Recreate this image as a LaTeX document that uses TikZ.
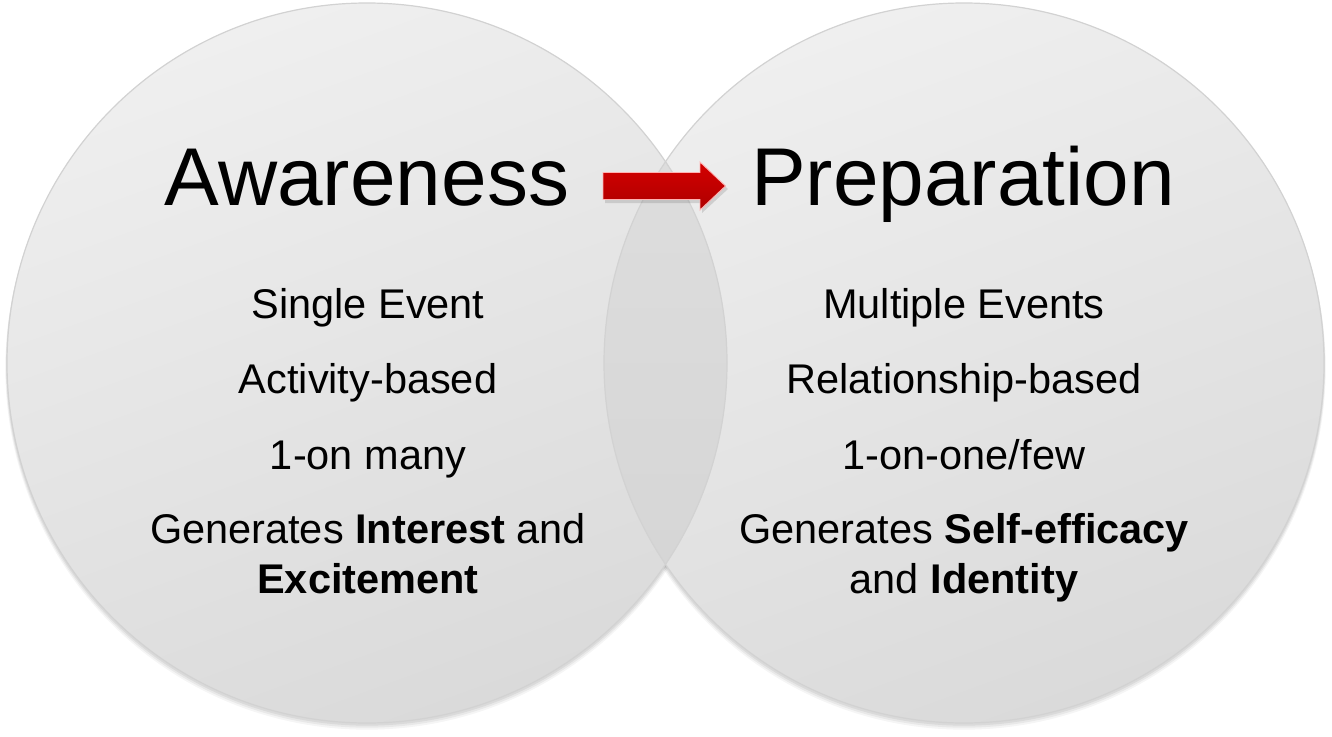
\documentclass[tikz,border=0pt]{standalone}
\usepackage{fontspec}
\setmainfont{Liberation Sans}
\tikzset{
  circ/.style={top color=circtop, bottom color=circbot, shading angle=20},
  rim/.style={draw=rimgray, line width=1.2pt},
  title/.style={anchor=base, font=\fontsize{82}{90}\selectfont, text=black},
  item/.style={anchor=base, font=\fontsize{41.5}{48}\selectfont, text=black},
  blockarrow/.style={top color=arrowred, bottom color=arrowdark, draw=white!70!red, line width=0.9pt, line join=miter},
}
\definecolor{circtop}{HTML}{EFEFEF}
\definecolor{circbot}{HTML}{DADADA}
\definecolor{lenstop}{HTML}{E0E0E0}
\definecolor{lensbot}{HTML}{D3D3D3}
\definecolor{rimgray}{HTML}{D2D2D2}
\definecolor{arrowred}{HTML}{D40000}
\definecolor{arrowdark}{HTML}{AE0000}
\begin{document}
\begin{tikzpicture}[x=1pt,y=-1pt]
\useasboundingbox (0,0) rectangle (1332,736);
\fill[white] (0,0) rectangle (1332,736);
% shadows
\foreach \s/\o in {5/0.04,3.5/0.05,2/0.06}{
  \fill[black,opacity=\o] (367,363+\s) circle[radius=360+\s/3];
  \fill[black,opacity=\o] (964,363+\s) circle[radius=360+\s/3];
}
% circles
\shade[circ] (367,363) circle[radius=360];
\shade[circ] (964,363) circle[radius=360];
\begin{scope}
  \clip (367,363) circle[radius=360];
  \shade[top color=lenstop, bottom color=lensbot] (964,363) circle[radius=360];
\end{scope}
\draw[rim] (367,363) circle[radius=360];
\draw[rim] (964,363) circle[radius=360];
% titles
\node[title] (aw) at (367,205) {Awareness};
\node[title] (pr) at (963,205) {Preparation};
% arrow (block shape)
\fill[black,opacity=0.12] (605,175) -- (702,175) -- (702,165) -- (728,189) -- (702,213) -- (702,203) -- (605,203) -- cycle;
\path[blockarrow] (603,172.5) -- (700,172.5) -- (700,162) -- (725.5,186) -- (700,210) -- (700,199.5) -- (603,199.5) -- cycle;
% left items
\node[item] (l1) at (368,318) {Single Event};
\node[item] (l2) at (368,393) {Activity-based};
\node[item] (l3) at (368,469) {1-on many};
\node[item] (l4) at (368,543) {Generates \textbf{Interest} and};
\node[item] (l5) at (368,593) {\textbf{Excitement}};
% right items
\node[item] (r1) at (964,318) {Multiple Events};
\node[item] (r2) at (964,393) {Relationship-based};
\node[item] (r3) at (964,469) {1-on-one/few};
\node[item] (r4) at (964,543) {Generates \textbf{Self-efficacy}};
\node[item] (r5) at (964,593) {and \textbf{Identity}};
\end{tikzpicture}
\end{document}
